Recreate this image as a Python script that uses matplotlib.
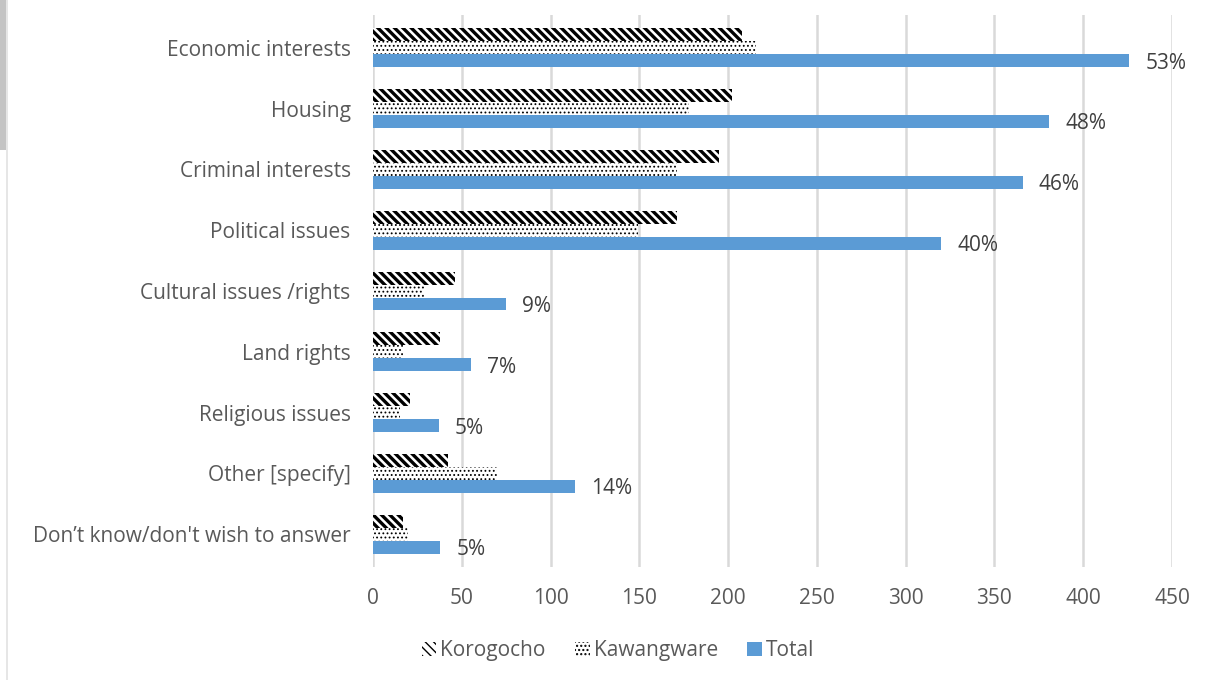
import matplotlib
matplotlib.use('Agg')
import numpy as np
import matplotlib.pyplot as plt
from matplotlib.patches import Patch, Rectangle
from matplotlib.lines import Line2D

# Responses per category, top to bottom
categories = [
    "Economic interests",
    "Housing",
    "Criminal interests",
    "Political issues",
    "Cultural issues /rights",
    "Land rights",
    "Religious issues",
    "Other [specify]",
    "Don\u2019t know/don't wish to answer",
]
korogocho = [208, 202, 195, 171, 46, 38, 21, 42, 17]
kawangware = [216, 178, 171, 149, 29, 17, 15, 70, 20]
total = [426, 381, 366, 320, 75, 55, 37, 114, 38]
total_pct = ["53%", "48%", "46%", "40%", "9%", "7%", "5%", "14%", "5%"]
xticks = [0, 50, 100, 150, 200, 250, 300, 350, 400, 450]

plt.rcParams['font.family'] = ['Open Sans', 'DejaVu Sans']

TXT = '#595959'
BLUE = '#5b9bd5'
STRIPES = '\\\\\\\\'
DOTS = '....'

fig = plt.figure(figsize=(12.07, 6.80), dpi=100)
ax = fig.add_axes([0.309, 0.166, 0.662, 0.812])

y = np.arange(len(categories))
h = 0.213

with plt.rc_context({'hatch.linewidth': 2.4}):
    ax.barh(y - h, korogocho, height=h, facecolor='white', edgecolor='black',
            hatch=STRIPES, linewidth=0, zorder=3)
    h_k = Patch(facecolor='white', edgecolor='black', hatch=STRIPES, linewidth=0)
with plt.rc_context({'hatch.linewidth': 0.8}):
    ax.barh(y, kawangware, height=h, facecolor='white', edgecolor='black',
            hatch=DOTS, linewidth=0, zorder=3)
    h_w = Patch(facecolor='white', edgecolor='black', hatch=DOTS, linewidth=0)
ax.barh(y + h, total, height=h, color=BLUE, linewidth=0, zorder=3)
h_t = Patch(facecolor=BLUE, linewidth=0)

for yi, v, lab in zip(y, total, total_pct):
    ax.text(v + 9, yi + h + 0.04, lab, va='center', ha='left',
            fontsize=15, color='#404040')

ax.set_xlim(0, 450)
ax.set_ylim(len(categories) - 0.46, -0.54)
ax.set_xticks(xticks)
ax.set_yticks(y)
ax.set_yticklabels(categories)
ax.tick_params(axis='both', length=0, labelsize=15, colors=TXT)
ax.tick_params(axis='x', pad=15)
ax.tick_params(axis='y', pad=16)
ax.xaxis.grid(True, color='#d9d9d9', linewidth=1.8, zorder=0)
ax.set_axisbelow(True)
for s in ax.spines.values():
    s.set_visible(False)

leg = fig.legend([h_k, h_w, h_t], ['Korogocho', 'Kawangware', 'Total'], loc='center',
                 bbox_to_anchor=(0.512, 0.043), ncol=3, frameon=False,
                 fontsize=15, handlelength=0.7, handleheight=0.7,
                 handletextpad=0.2, columnspacing=1.4)
for t in leg.get_texts():
    t.set_color(TXT)

# thin frame on the left edge
fig.add_artist(Rectangle((0, 1 - 150 / 680), 6 / 1207, 150 / 680,
                         transform=fig.transFigure, color='#c4c4c4', lw=0))
fig.add_artist(Line2D([6.5 / 1207, 6.5 / 1207], [0, 1], transform=fig.transFigure,
                      color='#e2e2e2', lw=1.2))

fig.savefig('out.png', dpi=100)
